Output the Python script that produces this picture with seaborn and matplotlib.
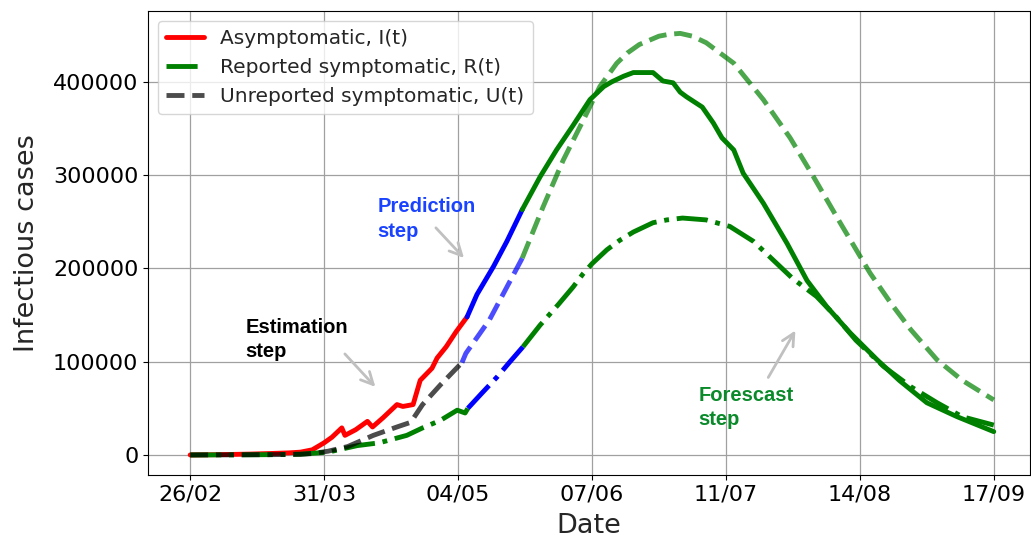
import numpy as np
import pandas as pd
import matplotlib
matplotlib.use("Agg")
import matplotlib.pyplot as plt
import seaborn as sns

# day offsets from 26/02 and values
start = pd.Timestamp("2020-02-26")

# Asymptomatic, I(t)
i_est_days = [0, 5, 10, 15, 20, 25, 28, 31, 34, 36, 38.5, 39.3, 42, 45, 46.3, 49, 52.5, 54, 56.6, 58.4, 61.4, 62.7, 65, 67.5, 70.3]
i_est_vals = [0, 200, 500, 900, 1500, 2200, 3000, 5500, 13000, 19000, 29000, 21000, 27000, 36000, 30000, 40000, 54000, 52000, 54000, 80000, 93000, 104000, 116000, 132000, 148000]
i_pred_days = [70.3, 72.8, 77, 80.4, 84.3]
i_pred_vals = [148000, 172000, 202000, 229000, 263000]
i_fore_days = [84.3, 88.8, 93, 97, 101.5, 105, 107, 110, 112.5, 117.5, 120, 122.6, 124.4, 126, 130, 132.8, 135, 138, 140.4, 142, 145.5, 151.5, 156.6, 161.6, 167.5, 174.4, 180, 187, 194.7, 204]
i_fore_vals = [263000, 298000, 327000, 352000, 381000, 395000, 400000, 406000, 410000, 410000, 401000, 399000, 389000, 384000, 373000, 356000, 340000, 327000, 302000, 292000, 270000, 227000, 187000, 159000, 131000, 102000, 80000, 56000, 41000, 25000]

# Reported symptomatic, R(t)
r_est_days = [0, 10, 20, 28, 35, 42.4, 48, 55, 59, 63.5, 67.8, 69.8, 70.5]
r_est_vals = [0, 100, 300, 800, 3000, 10000, 13000, 21000, 29000, 37000, 48000, 45000, 50000]
r_pred_days = [70.5, 74, 78, 81, 84.5]
r_pred_vals = [50000, 66000, 84000, 99000, 116000]
r_fore_days = [84.5, 88.8, 93.4, 97.2, 99.7, 102, 105.8, 109, 112.5, 117.5, 121, 125, 131, 137, 143, 148, 153, 159, 164, 169, 176, 183, 189.6, 196, 204]
r_fore_vals = [116000, 139000, 161000, 180000, 194000, 205000, 220000, 230000, 239000, 249000, 252000, 254000, 252000, 245000, 229000, 209000, 189000, 170000, 148000, 123000, 95000, 73000, 56000, 41000, 32000]

# Unreported symptomatic, U(t)
u_est_days = [0, 10, 20, 28, 31, 35, 40, 46.5, 52.5, 56, 59, 63.5, 69]
u_est_vals = [0, 100, 300, 700, 1500, 4000, 9000, 21000, 30000, 35000, 54000, 75000, 99000]
u_pred_days = [69, 70, 76, 80.4, 84.3]
u_pred_vals = [99000, 109000, 145000, 180000, 211000]
u_fore_days = [84.3, 89.6, 94.7, 99.8, 104, 108.3, 111, 114, 119, 121.5, 124.4, 127.5, 131, 138, 145.5, 152.3, 158, 165, 172.6, 178, 183, 189.6, 196, 204]
u_fore_vals = [211000, 266000, 316000, 359000, 395000, 420000, 431000, 440000, 449000, 451000, 452000, 449000, 442000, 420000, 381000, 340000, 300000, 249000, 195000, 162000, 134000, 102000, 80000, 59000]

tick_days = [0, 34, 68, 102, 136, 170, 204]
tick_labels = ["26/02", "31/03", "04/05", "07/06", "11/07", "14/08", "17/09"]


def to_dates(days):
    return start + pd.to_timedelta(np.array(days, dtype=float), unit="D")


sns.set_style("ticks", {"axes.edgecolor": "black", "xtick.color": "black",
                        "ytick.color": "black", "axes.grid": True,
                        "grid.color": "#a0a0a0"})
plt.rcParams["font.family"] = ["DejaVu Sans"]

fig = plt.figure(figsize=(10.31, 5.4), dpi=100)
ax = fig.add_axes([148 / 1031, 65 / 540, 882 / 1031, 464 / 540])

lw = 3.5
# I(t)
sns.lineplot(x=to_dates(i_est_days), y=i_est_vals, color="red", lw=lw, ax=ax, label="Asymptomatic, I(t)")
sns.lineplot(x=to_dates(i_pred_days), y=i_pred_vals, color="blue", lw=lw, ax=ax)
sns.lineplot(x=to_dates(i_fore_days), y=i_fore_vals, color="green", lw=lw, ax=ax)
# R(t)
sns.lineplot(x=to_dates(r_est_days), y=r_est_vals, color="green", lw=lw, ls="-.", ax=ax, label="Reported symptomatic, R(t)")
sns.lineplot(x=to_dates(r_pred_days), y=r_pred_vals, color="blue", lw=lw, ls="-.", ax=ax)
sns.lineplot(x=to_dates(r_fore_days), y=r_fore_vals, color="green", lw=lw, ls="-.", ax=ax)
# U(t)
sns.lineplot(x=to_dates(u_est_days), y=u_est_vals, color="black", alpha=0.7, lw=lw, ls="--", ax=ax, label="Unreported symptomatic, U(t)")
sns.lineplot(x=to_dates(u_pred_days), y=u_pred_vals, color="blue", alpha=0.7, lw=lw, ls="--", ax=ax)
sns.lineplot(x=to_dates(u_fore_days), y=u_fore_vals, color="green", alpha=0.7, lw=lw, ls="--", ax=ax)

ax.set_xlim(to_dates([-10.7])[0], to_dates([213.2])[0])
ax.set_ylim(-21500, 476000)
ax.set_xticks(to_dates(tick_days), tick_labels)
ax.set_yticks([0, 100000, 200000, 300000, 400000])
ax.ticklabel_format(axis="y", style="plain")
ax.tick_params(labelsize=16)
ax.grid(True, color="#a0a0a0", lw=0.9)
ax.set_axisbelow(True)
ax.set_xlabel("Date", fontsize=19.5, labelpad=6)
ax.set_ylabel("Infectious cases", fontsize=19.5, labelpad=9)

ax.legend(loc="upper left", fontsize=14.5, framealpha=0.8, handlelength=1.9)

arrow = dict(arrowstyle="->", color="#c0c0c0", lw=2, mutation_scale=22)
font = dict(family="Liberation Sans", fontsize=14.5, fontweight="bold", ha="left", va="center", linespacing=1.35)
ax.annotate("", xy=(to_dates([47.5])[0], 70800), xytext=(to_dates([38.8])[0], 110500), arrowprops=arrow)
ax.text(to_dates([14])[0], 124000, "Estimation\nstep", color="black", **font)
ax.annotate("", xy=(to_dates([70])[0], 209000), xytext=(to_dates([61.9])[0], 245700), arrowprops=arrow)
ax.text(to_dates([47.5])[0], 253000, "Prediction\nstep", color="#1a43ff", **font)
ax.annotate("", xy=(to_dates([154])[0], 136000), xytext=(to_dates([146.4])[0], 80500), arrowprops=arrow)
ax.text(to_dates([129])[0], 50500, "Forescast\nstep", color="#0a8a2a", **font)

fig.savefig("out.png", dpi=100)
